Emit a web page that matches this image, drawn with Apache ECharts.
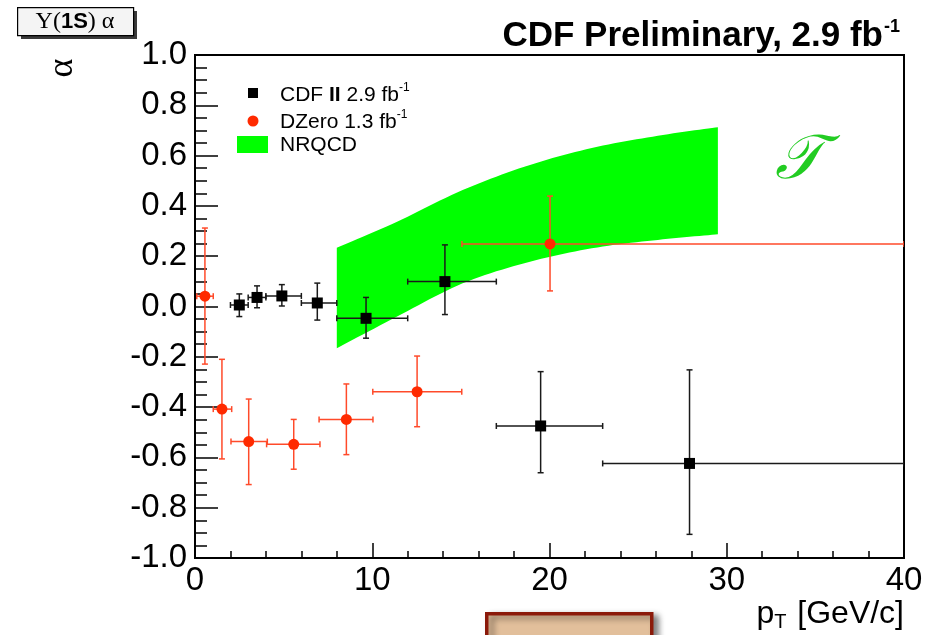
<!DOCTYPE html>
<html>
<head>
<meta charset="utf-8">
<script src="https://cdn.jsdelivr.net/npm/echarts@6/dist/echarts.min.js"></script>
<style>
  html, body { margin: 0; padding: 0; background: #fff; }
  #chart { width: 931px; height: 635px; }
</style>
</head>
<body>
<div id="chart"></div>
<script>
// ---- data ----
var xTickLabels = ['0', '10', '20', '30', '40'];
var yTickLabels = ['-1.0', '-0.8', '-0.6', '-0.4', '-0.2', '0.0', '0.2', '0.4', '0.6', '0.8', '1.0'];

// CDF II 2.9 fb^-1 (black squares)
var cdfPt        = [2.5, 3.5, 4.9, 6.9, 9.65, 14.1, 19.5, 27.9];
var cdfAlpha     = [0.006, 0.036, 0.042, 0.014, -0.047, 0.099, -0.475, -0.624];
var cdfPtLow     = [2.0, 3.0, 4.0, 6.0, 8.0, 12.0, 17.0, 23.0];
var cdfPtHigh    = [3.0, 4.0, 6.0, 8.0, 12.0, 17.0, 23.0, 40.0];
var cdfAlphaLow  = [-0.04, -0.005, 0.002, -0.054, -0.126, -0.032, -0.661, -0.906];
var cdfAlphaHigh = [0.05, 0.082, 0.087, 0.093, 0.036, 0.245, -0.259, -0.252];

// DZero 1.3 fb^-1 (red circles)
var d0Pt        = [0.56, 1.52, 3.03, 5.57, 8.54, 12.53, 20.03];
var d0Alpha     = [0.041, -0.408, -0.537, -0.548, -0.449, -0.339, 0.249];
var d0PtLow     = [0.1, 1.03, 2.03, 4.04, 7.0, 10.03, 15.06];
var d0PtHigh    = [1.03, 2.07, 4.08, 7.05, 10.04, 15.05, 40.0];
var d0AlphaLow  = [-0.229, -0.606, -0.708, -0.647, -0.589, -0.478, 0.062];
var d0AlphaHigh = [0.312, -0.21, -0.368, -0.449, -0.308, -0.197, 0.439];

// NRQCD band
var nrqcdPt   = [8.0, 11.4, 15.1, 18.9, 22.7, 26.4, 29.5];
var nrqcdLow  = [-0.166, -0.040, 0.092, 0.178, 0.235, 0.267, 0.287];
var nrqcdHigh = [0.234, 0.337, 0.463, 0.563, 0.635, 0.682, 0.713];

// ---- build ----
function errData(x, y, xl, xh, yl, yh) {
  return x.map(function (v, i) { return [v, y[i], xl[i], xh[i], yl[i], yh[i]]; });
}
function errRender(color) {
  return function (params, api) {
    var x = api.value(0), y = api.value(1);
    var pl = api.coord([api.value(2), y]);
    var ph = api.coord([api.value(3), y]);
    var pyl = api.coord([x, api.value(4)]);
    var pyh = api.coord([x, api.value(5)]);
    var st = { stroke: color, lineWidth: 1.5 };
    var c = 3;
    return {
      type: 'group',
      children: [
        { type: 'line', shape: { x1: pl[0], y1: pl[1], x2: ph[0], y2: ph[1] }, style: st },
        { type: 'line', shape: { x1: pyh[0], y1: pyh[1], x2: pyl[0], y2: pyl[1] }, style: st },
        { type: 'line', shape: { x1: pl[0], y1: pl[1] - c, x2: pl[0], y2: pl[1] + c }, style: st },
        { type: 'line', shape: { x1: ph[0], y1: ph[1] - c, x2: ph[0], y2: ph[1] + c }, style: st },
        { type: 'line', shape: { x1: pyh[0] - c, y1: pyh[1], x2: pyh[0] + c, y2: pyh[1] }, style: st },
        { type: 'line', shape: { x1: pyl[0] - c, y1: pyl[1], x2: pyl[0] + c, y2: pyl[1] }, style: st }
      ]
    };
  };
}
// Catmull-Rom smoothing of an already projected pixel polyline
function smoothPx(p) {
  var out = [];
  for (var i = 0; i < p.length - 1; i++) {
    var p0 = p[Math.max(i - 1, 0)], p1 = p[i], p2 = p[i + 1], p3 = p[Math.min(i + 2, p.length - 1)];
    for (var k = 0; k < 12; k++) {
      var t = k / 12, t2 = t * t, t3 = t2 * t;
      out.push([
        0.5 * ((2 * p1[0]) + (-p0[0] + p2[0]) * t + (2 * p0[0] - 5 * p1[0] + 4 * p2[0] - p3[0]) * t2 + (-p0[0] + 3 * p1[0] - 3 * p2[0] + p3[0]) * t3),
        0.5 * ((2 * p1[1]) + (-p0[1] + p2[1]) * t + (2 * p0[1] - 5 * p1[1] + 4 * p2[1] - p3[1]) * t2 + (-p0[1] + 3 * p1[1] - 3 * p2[1] + p3[1]) * t3)
      ]);
    }
  }
  out.push(p[p.length - 1]);
  return out;
}
var bandData = nrqcdPt.map(function (v, i) { return [v, nrqcdLow[i], nrqcdHigh[i]]; });

var chart = echarts.init(document.getElementById('chart'), null, { renderer: 'canvas' });

var tickFont = { fontFamily: 'Liberation Sans', fontSize: 33, color: '#000' };

var option = {
  animation: false,
  backgroundColor: '#fff',
  grid: { left: 195, right: 27, top: 55, bottom: 77, show: true, borderColor: '#000', borderWidth: 2, backgroundColor: 'transparent' },
  xAxis: {
    type: 'value', min: 0, max: 40, interval: 10,
    axisLine: { show: true, onZero: false, lineStyle: { color: '#000', width: 2 } },
    axisTick: { show: true, inside: true, length: 15, lineStyle: { color: '#000', width: 1.5 } },
    minorTick: { show: true, splitNumber: 5, length: 7, lineStyle: { color: '#000', width: 1.5 } },
    splitLine: { show: false },
    axisLabel: Object.assign({ margin: 6, formatter: function (v) { return xTickLabels[Math.round(v / 10)]; } }, tickFont)
  },
  yAxis: {
    type: 'value', min: -1, max: 1, interval: 0.2,
    axisLine: { show: true, onZero: false, lineStyle: { color: '#000', width: 2 } },
    axisTick: { show: true, inside: true, length: 23, lineStyle: { color: '#000', width: 1.5 } },
    minorTick: { show: true, splitNumber: 4, length: 12, lineStyle: { color: '#000', width: 1.5 } },
    splitLine: { show: false },
    axisLabel: Object.assign({ margin: 8, formatter: function (v) { return yTickLabels[Math.round((v + 1) / 0.2)]; } }, tickFont)
  },
  series: [
    {
      type: 'custom', name: 'NRQCD', data: bandData, clip: true, z: 1,
      renderItem: function (params, api) {
        if (params.dataIndex !== 0) return null;
        var up = [], lo = [];
        for (var i = 0; i < bandData.length; i++) {
          up.push(api.coord([bandData[i][0], bandData[i][2]]));
          lo.push(api.coord([bandData[i][0], bandData[i][1]]));
        }
        var pts = smoothPx(up).concat(smoothPx(lo).reverse());
        return { type: 'polygon', shape: { points: pts }, style: { fill: '#00ff00', stroke: null } };
      }
    },
    { type: 'custom', name: 'CDF err', data: errData(cdfPt, cdfAlpha, cdfPtLow, cdfPtHigh, cdfAlphaLow, cdfAlphaHigh), renderItem: errRender('#1a1a1a'), clip: true, z: 3 },
    { type: 'custom', name: 'D0 err', data: errData(d0Pt, d0Alpha, d0PtLow, d0PtHigh, d0AlphaLow, d0AlphaHigh), renderItem: errRender('#ff4a2a'), clip: true, z: 3 },
    { type: 'scatter', name: 'CDF II', data: cdfPt.map(function (v, i) { return [v, cdfAlpha[i]]; }), symbol: 'rect', symbolSize: 11, itemStyle: { color: '#000', opacity: 1 }, z: 4 },
    { type: 'scatter', name: 'DZero', data: d0Pt.map(function (v, i) { return [v, d0Alpha[i]]; }), symbol: 'circle', symbolSize: 11, itemStyle: { color: '#ff2a00', opacity: 1 }, z: 4 }
  ],
  graphic: [
    // top-left box with shadow
    { type: 'rect', left: 21, top: 11, shape: { width: 116, height: 28 }, style: { fill: '#3a3a3a' }, z: 10 },
    { type: 'rect', left: 17, top: 7, shape: { width: 116, height: 28 }, style: { fill: '#f4f4f4', stroke: '#000', lineWidth: 1.2 }, z: 11 },
    { type: 'text', x: 75, y: 22, z: 12,
      style: { text: '{s|Υ(}{b|1S}{s|) α}', align: 'center', verticalAlign: 'middle',
        rich: { s: { fontFamily: 'Liberation Serif', fontSize: 24, fill: '#000' }, b: { fontFamily: 'Liberation Sans', fontWeight: 'bold', fontSize: 22, fill: '#000' } } } },
    // y axis name
    { type: 'text', x: 63, y: 68, rotation: Math.PI / 2, z: 12,
      style: { text: 'α', fontFamily: 'Liberation Serif', fontSize: 36, fill: '#000', align: 'center', verticalAlign: 'middle' } },
    // title
    { type: 'text', x: 900, y: 18, z: 12,
      style: { text: '{a|CDF Preliminary, 2.9 fb}{s|-1}', align: 'right', verticalAlign: 'top',
        rich: { a: { fontFamily: 'Liberation Sans', fontWeight: 'bold', fontSize: 35, fill: '#000', lineHeight: 36, verticalAlign: 'bottom' },
                s: { fontFamily: 'Liberation Sans', fontWeight: 'bold', fontSize: 18, fill: '#000', lineHeight: 36, verticalAlign: 'top', padding: [0, 0, 0, 1] } } } },
    // legend
    { type: 'rect', left: 248, top: 88, shape: { width: 10, height: 10 }, style: { fill: '#000' }, z: 12 },
    { type: 'circle', shape: { cx: 253, cy: 121, r: 5.5 }, style: { fill: '#ff2a00' }, z: 12 },
    { type: 'rect', left: 237, top: 136, shape: { width: 31, height: 17 }, style: { fill: '#00ff00' }, z: 12 },
    { type: 'text', x: 280, y: 94, z: 12,
      style: { text: '{a|CDF }{b|II}{a| 2.9 fb}{s|-1}', verticalAlign: 'middle',
        rich: { a: { fontFamily: 'Liberation Sans', fontSize: 21, fill: '#000', lineHeight: 24, verticalAlign: 'bottom' },
                b: { fontFamily: 'Liberation Sans', fontWeight: 'bold', fontSize: 21, fill: '#000', lineHeight: 24, verticalAlign: 'bottom' },
                s: { fontFamily: 'Liberation Sans', fontSize: 12, fill: '#000', lineHeight: 24, verticalAlign: 'top' } } } },
    { type: 'text', x: 280, y: 121, z: 12,
      style: { text: '{a|DZero 1.3 fb}{s|-1}', verticalAlign: 'middle',
        rich: { a: { fontFamily: 'Liberation Sans', fontSize: 21, fill: '#000', lineHeight: 24, verticalAlign: 'bottom' },
                s: { fontFamily: 'Liberation Sans', fontSize: 12, fill: '#000', lineHeight: 24, verticalAlign: 'top' } } } },
    { type: 'text', x: 280, y: 145, z: 12,
      style: { text: 'NRQCD', fontFamily: 'Liberation Sans', fontSize: 21, fill: '#000', verticalAlign: 'middle' } },
    // curly T logo
    { type: 'text', x: 798, y: 162, z: 12,
      style: { text: '𝒯', fontFamily: 'DejaVu Serif', fontStyle: 'italic', fontSize: 62, fill: '#22cc22', align: 'center', verticalAlign: 'middle' } },
    // x axis name
    { type: 'text', x: 904, y: 614, z: 12,
      style: { text: '{a|p}{t|T}{a| [GeV/c]}', align: 'right', verticalAlign: 'middle',
        rich: { a: { fontFamily: 'Liberation Sans', fontSize: 32, fill: '#000', lineHeight: 40, verticalAlign: 'middle' },
                t: { fontFamily: 'Liberation Sans', fontSize: 20, fill: '#000', lineHeight: 40, verticalAlign: 'bottom', padding: [0, 2, 2, 0] } } } },
    // bottom tan box
    { type: 'rect', left: 485, top: 612, shape: { width: 165, height: 40 }, z: 12,
      style: { fill: '#e2bf9b', stroke: '#8b1a0a', lineWidth: 3.5, shadowBlur: 6, shadowOffsetX: 5, shadowOffsetY: 3, shadowColor: 'rgba(0,0,0,0.45)' } }
  ]
};
chart.setOption(option);
</script>
</body>
</html>
